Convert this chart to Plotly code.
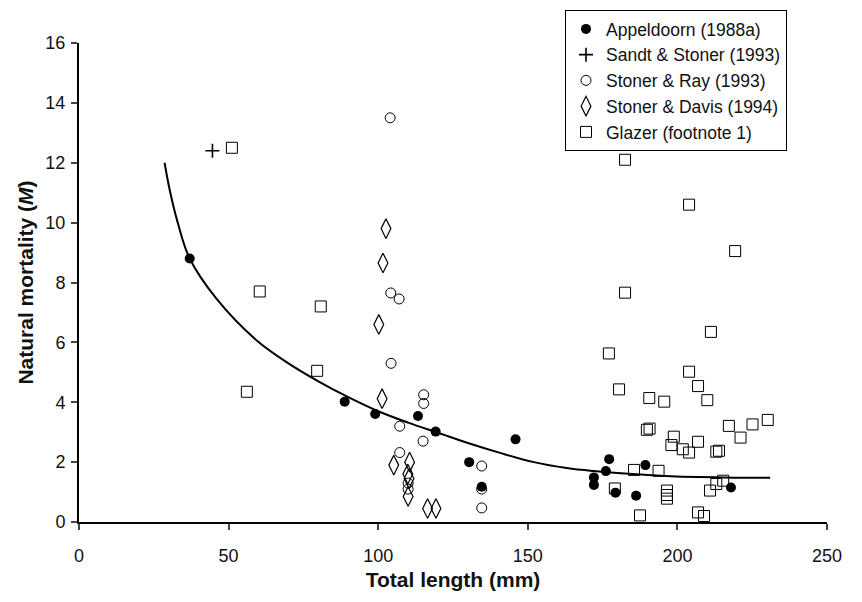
import plotly.graph_objects as go

# ---- data ----
app_x = [37, 88.8, 99, 113.3, 119.2, 130.4, 134.6, 145.9, 172.1, 172.1, 176.1, 177.2, 179.3, 186.2, 189.3, 217.9]
app_y = [8.8, 4.02, 3.61, 3.54, 3.02, 2.0, 1.18, 2.76, 1.49, 1.24, 1.7, 2.1, 0.98, 0.88, 1.9, 1.15]

sandt_x = [44.6]
sandt_y = [12.4]

ray_x = [104, 104.2, 107.0, 104.3, 115.2, 115.2, 107.2, 115.0, 107.2, 134.6, 134.6, 134.6, 110, 110]
ray_y = [13.5, 7.65, 7.45, 5.3, 4.25, 3.96, 3.2, 2.7, 2.32, 1.87, 1.1, 0.47, 1.3, 1.1]

davis_x = [102.6, 101.6, 100.2, 101.3, 105.2, 110.5, 109.9, 110.3, 110, 116.5, 119.3]
davis_y = [9.8, 8.65, 6.6, 4.12, 1.9, 2.0, 1.6, 1.45, 0.85, 0.45, 0.45]

glazer_x = [51.1, 56.1, 60.4, 80.8, 79.6,
            182.5, 203.9, 219.3, 182.5, 211.2,
            177.1, 203.9, 206.9, 180.5, 210.0, 190.6, 195.6,
            189.8, 190.7, 217.2, 225.1, 230.2, 221.1, 198.8, 206.9, 198.0, 201.8, 203.9, 213.0, 213.9,
            185.5, 193.7, 215.3, 213.0, 210.9, 179.1, 196.5, 196.5, 196.5,
            187.5, 206.9, 208.9]
glazer_y = [12.5, 4.35, 7.7, 7.2, 5.05,
            12.1, 10.6, 9.05, 7.66, 6.35,
            5.63, 5.02, 4.54, 4.43, 4.07, 4.14, 4.02,
            3.08, 3.12, 3.21, 3.26, 3.41, 2.82, 2.85, 2.68, 2.57, 2.43, 2.32, 2.35, 2.38,
            1.74, 1.71, 1.38, 1.27, 1.05, 1.12, 1.05, 0.9, 0.78,
            0.22, 0.32, 0.2]

curve_x = [28.6, 30.3, 33, 37, 46, 59, 70, 80, 90, 100, 110, 120, 130, 141, 152, 163, 172, 185, 196, 207, 219, 231]
curve_y = [12.0, 11.1, 10.0, 8.8, 7.45, 6.1, 5.3, 4.7, 4.17, 3.7, 3.32, 2.98, 2.64, 2.3, 2.0, 1.8, 1.7, 1.6, 1.54, 1.5, 1.48, 1.48]

x_ticks = [0, 50, 100, 150, 200, 250]
y_ticks = [0, 2, 4, 6, 8, 10, 12, 14, 16]

FONT = "Liberation Sans, Arial, sans-serif"

fig = go.Figure()
fig.add_trace(go.Scatter(x=curve_x, y=curve_y, mode="lines", line=dict(color="black", width=2, shape="spline", smoothing=1.0),
                         showlegend=False, hoverinfo="skip"))
fig.add_trace(go.Scatter(x=app_x, y=app_y, mode="markers", name="Appeldoorn (1988a)",
                         marker=dict(symbol="circle", size=10, color="black")))
fig.add_trace(go.Scatter(x=sandt_x, y=sandt_y, mode="markers", name="Sandt & Stoner (1993)",
                         marker=dict(symbol="cross-thin-open", size=10, color="black", line=dict(width=1.6, color="black"))))
fig.add_trace(go.Scatter(x=ray_x, y=ray_y, mode="markers", name="Stoner & Ray (1993)",
                         marker=dict(symbol="circle-open", size=10, color="black", line=dict(width=1, color="black"))))
fig.add_trace(go.Scatter(x=davis_x, y=davis_y, mode="markers", name="Stoner & Davis (1994)",
                         marker=dict(symbol="diamond-tall-open", size=14, color="black", line=dict(width=1.2, color="black"))))
fig.add_trace(go.Scatter(x=glazer_x, y=glazer_y, mode="markers", name="Glazer (footnote 1)",
                         marker=dict(symbol="square-open", size=11, color="black", line=dict(width=1, color="black"))))

fig.update_layout(
    width=862, height=602,
    margin=dict(l=71, r=43, t=35, b=88, autoexpand=False),
    paper_bgcolor="white", plot_bgcolor="white",
    font=dict(family=FONT, size=18, color="#111"),
    legend=dict(xref="container", yref="container", x=557/862, y=1-2/602, xanchor="left", yanchor="top",
                bordercolor="black", borderwidth=1, bgcolor="white",
                font=dict(family=FONT, size=17.5, color="#111"),
                itemwidth=30, tracegroupgap=0, entrywidth=215, entrywidthmode="pixels"),
    xaxis=dict(range=[0, 250], tickvals=x_ticks, ticks="outside", ticklen=6, tickwidth=1.5,
               showline=True, linecolor="black", linewidth=2, showgrid=False, zeroline=False,
               ticklabelstandoff=10, automargin=False,
               title=dict(text="<b>Total length (mm)</b>", font=dict(size=21, family=FONT), standoff=8)),
    yaxis=dict(range=[0, 16], tickvals=y_ticks, ticks="outside", ticklen=6, tickwidth=1.5,
               showline=True, linecolor="black", linewidth=2, showgrid=False, zeroline=False,
               ticklabelstandoff=2, automargin=False,
               title=dict(text="<b>Natural mortality (<i>M</i>)</b>", font=dict(size=21, family=FONT), standoff=6)),
)

fig.write_html("out.html")
